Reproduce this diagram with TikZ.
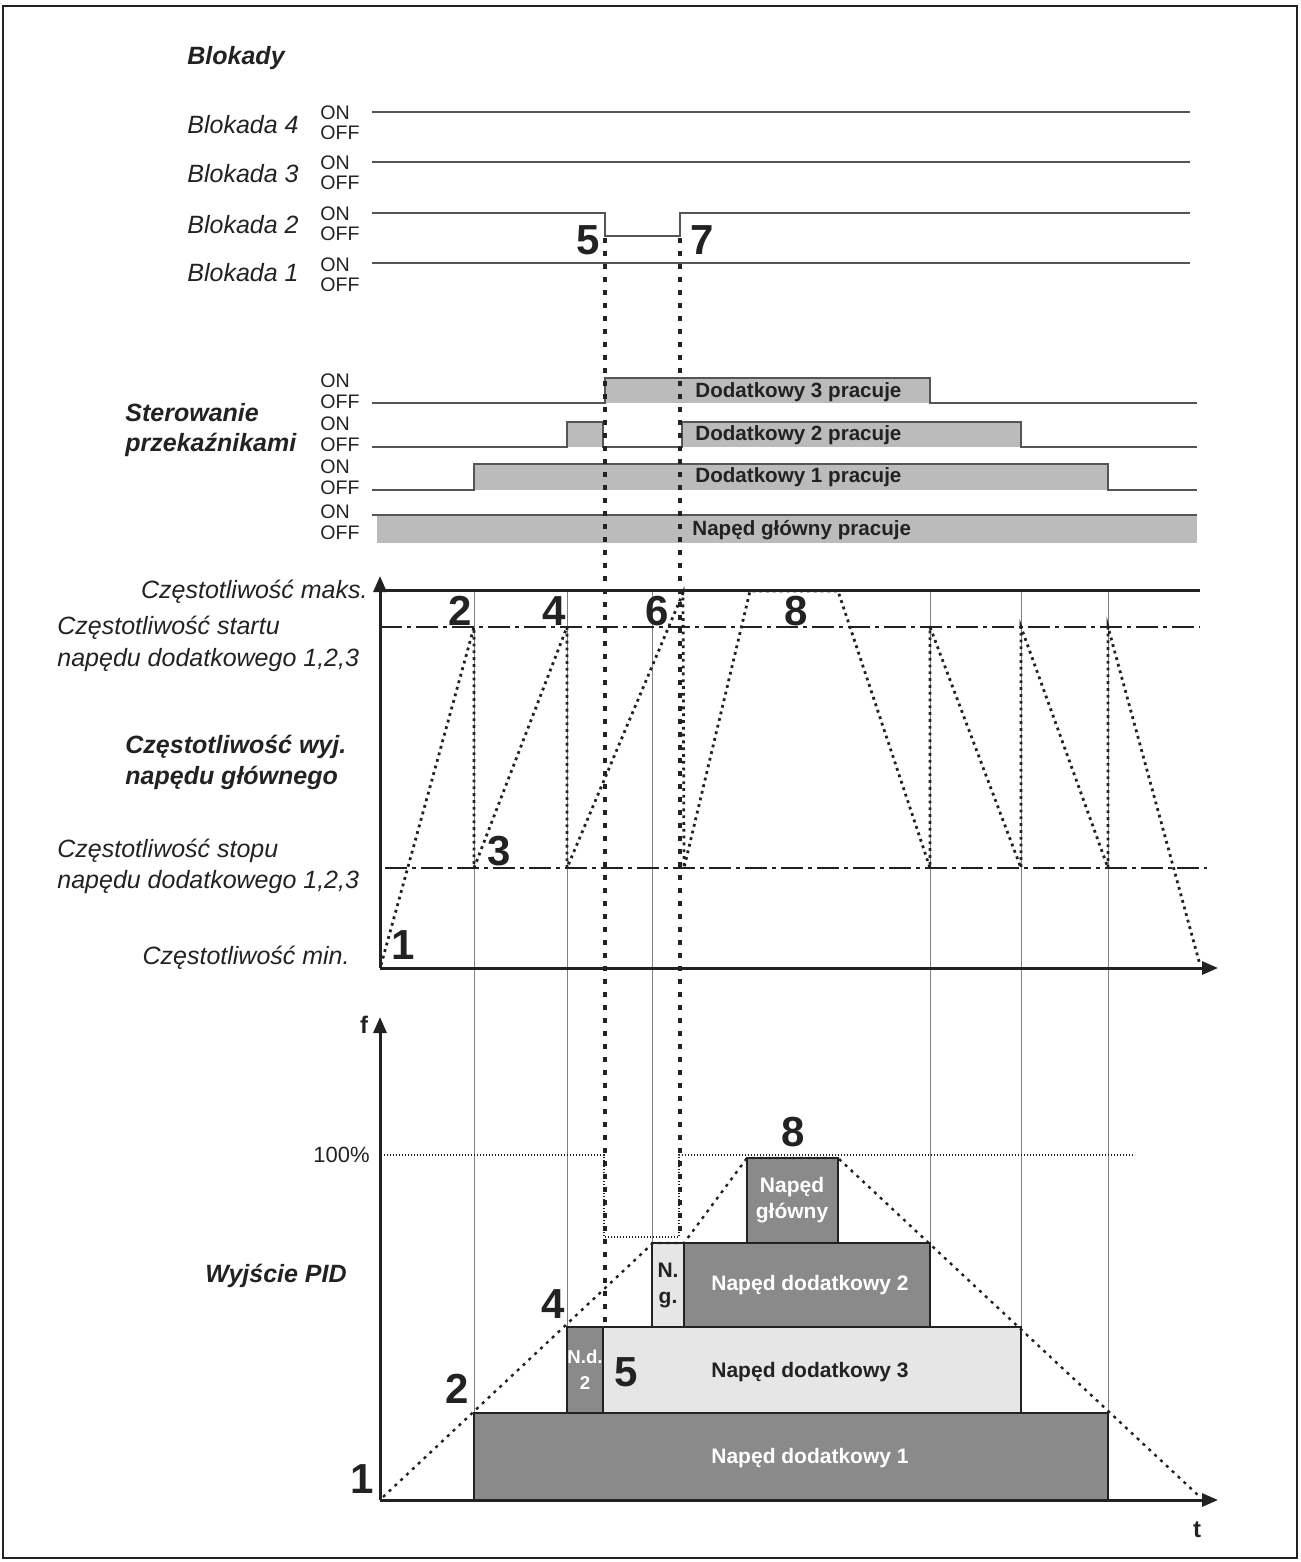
\documentclass[tikz,border=0pt]{standalone}
\usepackage{fontspec}
\setmainfont{Liberation Sans}
\usetikzlibrary{arrows.meta}
\definecolor{relaygray}{HTML}{BBBBBB}
\definecolor{darkblk}{HTML}{8A8A8A}
\definecolor{lightblk}{HTML}{E6E6E6}
\definecolor{ink}{HTML}{222222}
\definecolor{sigline}{HTML}{555555}
\definecolor{gridc}{HTML}{808080}
\begin{document}
\begin{tikzpicture}[x=0.5pt,y=-0.5pt,
  lbl/.style={font=\fontsize{12.5}{14}\selectfont\itshape, text=ink, inner sep=0},
  ttl/.style={font=\fontsize{12.5}{15}\selectfont\bfseries\itshape, text=ink, inner sep=0, anchor=west},
  onoff/.style={font=\fontsize{9.8}{10}\selectfont, text=ink, inner sep=0, anchor=west},
  num/.style={font=\fontsize{21}{21}\selectfont\bfseries, text=ink, inner sep=0},
  relaytxt/.style={font=\fontsize{10.3}{12}\selectfont\bfseries, text=ink, inner sep=0, anchor=west},
  blktxtw/.style={font=\fontsize{10.5}{13}\selectfont\bfseries, text=white, inner sep=0, align=center},
  blktxtb/.style={font=\fontsize{10.5}{13}\selectfont\bfseries, text=ink, inner sep=0, align=center},
  sig/.style={draw=sigline, line width=0.8pt},
  gridln/.style={draw=gridc, line width=0.5pt},
  dashdot/.style={draw=ink, line width=0.9pt, dash pattern=on 11pt off 2.5pt on 2pt off 2.5pt},
  axis/.style={draw=ink, line width=1.5pt, -{Triangle[length=8pt,width=6.5pt]}},
  fcurve/.style={draw=ink, line width=1.4pt, dash pattern=on 1.4pt off 2pt},
  marker/.style={draw=ink, line width=1.7pt, dash pattern=on 2.5pt off 4pt},
  pidcurve/.style={draw=ink, line width=1.2pt, dash pattern=on 1.5pt off 2.5pt},
  fine/.style={draw=ink, line width=0.6pt, dash pattern=on 0.6pt off 0.9pt},
  blk/.style={draw=ink, line width=1pt}
]
\useasboundingbox (0,0) rectangle (1300,1562);
\draw[ink, line width=1pt] (3,6) rectangle (1297,1558);

% ---------------- Blokady ----------------
\node[ttl] (tBlokady) at (187,58) {Blokady};
\foreach \i/\yt/\yon in {4/125/113,3/174/163,2/225/214,1/273/265}{
  \node[lbl, anchor=west] (tB\i) at (187,\yt) {Blokada \i};
  \node[onoff] (on\i) at (320,\yon) {ON};
  \node[onoff] (off\i) at (320,\yon+20) {OFF};
}
\coordinate (b4s) at (372,112); \coordinate (b4e) at (1190,112);
\coordinate (b3s) at (372,162); \coordinate (b3e) at (1190,162);
\coordinate (b1s) at (372,263); \coordinate (b1e) at (1190,263);
\draw[sig] (b4s) -- (b4e);
\draw[sig] (b3s) -- (b3e);
\draw[sig] (b1s) -- (b1e);
\draw[sig] (372,213) -- (605,213) -- (605,236) -- (680,236) -- (680,213) -- (1190,213);
\node[num] (n5a) at (588,240) {5};
\node[num] (n7a) at (702,240) {7};

% ---------------- Relays ----------------
\node[ttl] (tSter) at (125,413) {Sterowanie};
\node[ttl] (tPrz) at (125,445) {przekaźnikami};
\foreach \k/\yon in {a/381,b/424,c/467,d/512}{
  \node[onoff] (ron\k) at (320,\yon) {ON};
  \node[onoff] (roff\k) at (320,\yon+21) {OFF};
}
\fill[relaygray] (605,378) rectangle (930,403);
\draw[sig] (372,403) -- (605,403) -- (605,378) -- (930,378) -- (930,403) -- (1197,403);
\fill[relaygray] (567,422) rectangle (603,447);
\fill[relaygray] (682,422) rectangle (1021,447);
\draw[sig] (372,447) -- (567,447) -- (567,422) -- (603,422) -- (603,447) -- (682,447) -- (682,422) -- (1021,422) -- (1021,447) -- (1197,447);
\fill[relaygray] (474,464) rectangle (1108,490);
\draw[sig] (372,490) -- (474,490) -- (474,464) -- (1108,464) -- (1108,490) -- (1197,490);
\fill[relaygray] (377,515) rectangle (1197,543);
\draw[sig] (372,515) -- (1197,515);
\node[relaytxt] (rD3) at (695,392) {Dodatkowy 3 pracuje};
\node[relaytxt] (rD2) at (695,435) {Dodatkowy 2 pracuje};
\node[relaytxt] (rD1) at (695,477) {Dodatkowy 1 pracuje};
\node[relaytxt] (rM) at (692,530) {Napęd główny pracuje};

% ---------------- Frequency ----------------
\node[lbl, anchor=east] (fmax) at (368,592) {Częstotliwość maks.};
\node[lbl, anchor=west] (fstart1) at (57,628) {Częstotliwość startu};
\node[lbl, anchor=west] (fstart2) at (57,660) {napędu dodatkowego 1,2,3};
\node[ttl] (fwyj1) at (125,747) {Częstotliwość wyj.};
\node[ttl] (fwyj2) at (125,778) {napędu głównego};
\node[lbl, anchor=west] (fstop1) at (57,851) {Częstotliwość stopu};
\node[lbl, anchor=west] (fstop2) at (57,882) {napędu dodatkowego 1,2,3};
\node[lbl, anchor=east] (fmin) at (350,958) {Częstotliwość min.};

% grid verticals
\draw[gridln] (474,590) -- (474,1413);
\draw[gridln] (567,590) -- (567,1327);
\draw[gridln] (652,590) -- (652,1243);
\draw[gridln] (930,590) -- (930,1243);
\draw[gridln] (1021,590) -- (1021,1327);
\draw[gridln] (1108,590) -- (1108,1413);

\draw[ink, line width=1.5pt] (380,590) -- (1200,590);
\draw[dashdot] (380,627) -- (1200,627);
\draw[dashdot] (385,868) -- (1207,868);
\coordinate (fo) at (380,968);
\coordinate (fy) at (380,576);
\coordinate (fx) at (1218,968);
\draw[axis] (fo) -- (fy);
\draw[axis] (fo) -- (fx);

\draw[fcurve] (381,965) -- (474,627) -- (474,868) -- (567,627) -- (567,868) -- (683,593) -- (684,868)
  -- (750,591) -- (838,591) -- (930,868) -- (930,627) -- (1021,868) -- (1021,627) -- (1108,868)
  -- (1108,627) -- (1200,965);

\node[num] (fn1) at (403,945) {1};
\node[num] (fn2) at (460,611) {2};
\node[num] (fn3) at (499,851) {3};
\node[num] (fn4) at (554,611) {4};
\node[num] (fn6) at (657,611) {6};
\node[num] (fn8) at (796,611) {8};

% ---------------- PID ----------------
\node[font=\fontsize{12}{12}\selectfont\bfseries, text=ink, inner sep=0] (tf) at (364,1025) {f};
\node[font=\fontsize{12}{12}\selectfont\bfseries, text=ink, inner sep=0] (tt) at (1197,1530) {t};
\node[font=\fontsize{11}{12}\selectfont, text=ink, inner sep=0, anchor=east] (t100) at (370,1155) {100\%};
\node[ttl] (tpid) at (205,1276) {Wyjście PID};

\draw[blk, fill=darkblk] (474,1413) rectangle (1108,1500);
\draw[blk, fill=darkblk] (567,1327) rectangle (603,1413);
\draw[blk, fill=lightblk] (603,1327) rectangle (1021,1413);
\draw[blk, fill=lightblk] (652,1243) rectangle (684,1327);
\draw[blk, fill=darkblk] (684,1243) rectangle (930,1327);
\draw[blk, fill=darkblk] (747,1158) rectangle (838,1243);
\draw[draw=ink, line width=1.2pt, dash pattern=on 2pt off 1.5pt] (603,1327) -- (603,1413);

\node[blktxtw] (pD1) at (810,1458) {Napęd dodatkowy 1};
\node[blktxtb] (pD3) at (810,1372) {Napęd dodatkowy 3};
\node[blktxtw] (pD2) at (810,1285) {Napęd dodatkowy 2};
\node[blktxtw] (pM) at (792,1200) {Napęd\\główny};
\node[blktxtw, font=\fontsize{9.3}{13}\selectfont\bfseries] (pNd) at (585,1370) {N.d.\\2};
\node[blktxtb] (pNg) at (668,1285) {N.\\g.};

\draw[fine] (381,1155) -- (604,1155) -- (604,1237) -- (679,1237) -- (679,1155) -- (1135,1155);
\draw[pidcurve] (383,1497) -- (653,1243) -- (684,1243) -- (747,1158) -- (838,1158) -- (1200,1497);

\coordinate (po) at (380,1500);
\coordinate (py) at (380,1017);
\coordinate (px) at (1218,1500);
\draw[axis] (po) -- (py);
\draw[axis] (po) -- (px);

\node[num] (pn8) at (793,1132) {8};
\node[num] (pn1) at (362,1479) {1};
\node[num] (pn2) at (457,1389) {2};
\node[num] (pn4) at (553,1304) {4};
\node[num] (pn5) at (626,1372) {5};

% sync markers
\draw[marker] (605,238) -- (605,1327);
\draw[marker] (680,238) -- (680,1237);
\end{tikzpicture}
\end{document}
